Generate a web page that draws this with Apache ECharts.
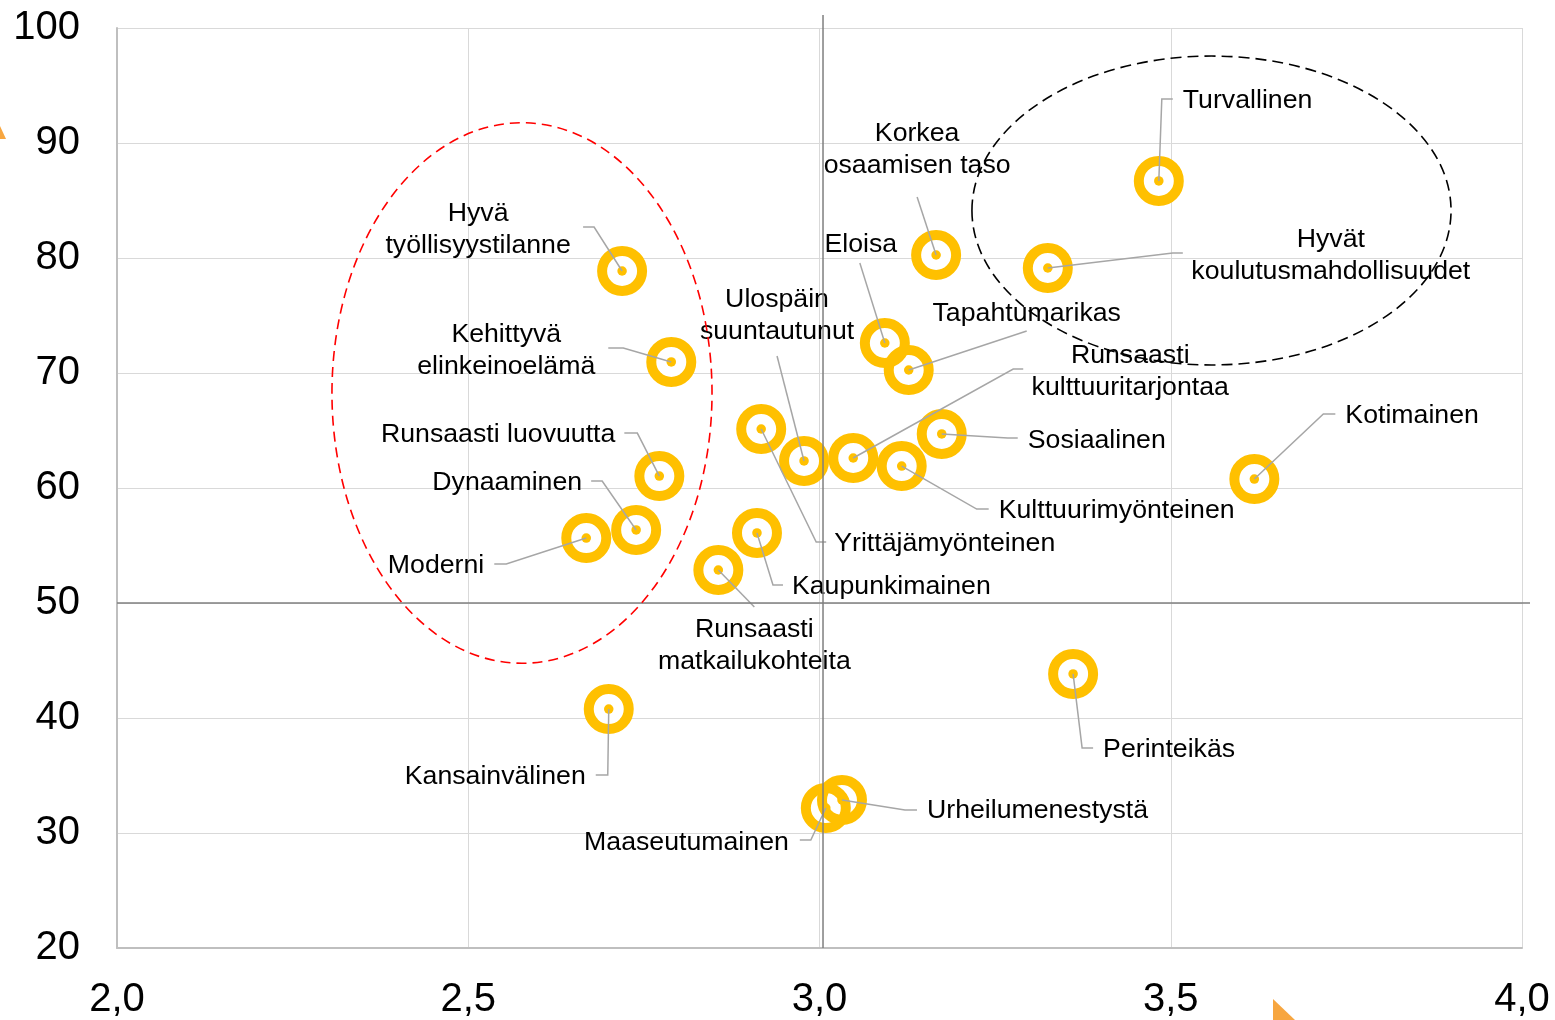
<!DOCTYPE html>
<html><head><meta charset="utf-8">
<script src="https://cdn.jsdelivr.net/npm/echarts@6/dist/echarts.min.js"></script>
<style>html,body{margin:0;padding:0;background:#fff}#c{width:1555px;height:1020px}</style>
</head><body><div id="c"></div>
<script>
// ---- data ----
const names = ['Turvallinen','Hyvät\nkoulutusmahdollisuudet','Korkea\nosaamisen taso','Eloisa','Tapahtumarikas',
  'Runsaasti\nkulttuuritarjontaa','Sosiaalinen','Kulttuurimyönteinen','Yrittäjämyönteinen','Ulospäin\nsuuntautunut',
  'Kaupunkimainen','Runsaasti\nmatkailukohteita','Hyvä\ntyöllisyystilanne','Kehittyvä\nelinkeinoelämä','Runsaasti luovuutta',
  'Dynaaminen','Moderni','Kansainvälinen','Kotimainen','Perinteikäs','Urheilumenestystä','Maaseutumainen'];
const xValues = [3.483,3.325,3.166,3.093,3.127,3.048,3.174,3.117,2.917,2.978,2.911,2.856,2.719,2.789,2.772,2.739,2.668,2.700,3.619,3.361,3.032,3.009];
const yValues = [86.70,79.13,80.26,72.61,70.26,62.61,64.70,61.91,65.13,62.35,56.09,52.87,78.87,70.96,61.04,56.35,55.65,40.78,60.78,43.83,32.87,32.17];
const xTickLabels = ['2,0','2,5','3,0','3,5','4,0'];
const yTickLabels = ['20','30','40','50','60','70','80','90','100'];
// group ellipses (annotation, in data units)
const groupEllipses = [
  {cx:2.5765, cy:68.26, rx:0.2705, ry:23.5},
  {cx:3.558, cy:84.13, rx:0.341, ry:13.43}
];
const quadrantCenter = [3.005, 50];

// ---- layout (pixel offsets from each point) ----
const leaderPaths = [
  [[3,-82],[14,-82]], [[125,-15],[135,-15]], [[-19,-58]], [[-25,-80]], [[118,-39]],
  [[160,-89],[170,-89]], [[66,4],[76,4]], [[75,43],[87,43]], [[55,113],[65,113]], [[-27,-105]],
  [[16,52],[26,52]], [[36,37]], [[-28,-44],[-39,-44]], [[-48,-14],[-63,-14]], [[-22,-43],[-35,-43]],
  [[-34,-49],[-45,-49]], [[-80,26],[-92,26]], [[-1,66],[-13,66]], [[69,-65],[81,-65]], [[9,74],[20,74]],
  [[63,10],[75,10]], [[-15,32],[-26,32]]
];
const labelPlacement = [
  [24,-82,'left'], [283,-14,'center'], [-19,-107,'center'], [-24,-100,'center'], [118,-58,'center'],
  [277,-88,'center'], [86,5,'left'], [97,43,'left'], [73,113,'left'], [-27,-147,'center'],
  [35,52,'left'], [36,74,'center'], [-144,-43,'center'], [-165,-13,'center'], [-44,-43,'right'],
  [-54,-49,'right'], [-102,26,'right'], [-23,66,'right'], [91,-65,'left'], [30,74,'left'],
  [85,9,'left'], [-37,33,'right']
];
const labelShiftY = 2;
const ellipseStyles = [{stroke:'#FF0000', dash:[10,6]}, {stroke:'#000000', dash:[11,6]}];

const FONT = "'Liberation Sans', Arial, sans-serif";
const points = names.map((n, i) => [xValues[i], yValues[i], n]);

const chart = echarts.init(document.getElementById('c'));
chart.setOption({
  animation: false,
  backgroundColor: '#fff',
  grid: {left: 117, right: 33, top: 28, bottom: 72, containLabel: false},
  xAxis: {
    type: 'value', min: 2, max: 4, interval: 0.5,
    axisLine: {show: true, lineStyle: {color: '#BFBFBF', width: 2}},
    axisTick: {show: false},
    splitLine: {show: true, lineStyle: {color: '#D9D9D9', width: 1}},
    axisLabel: {color: '#000', fontSize: 40, fontFamily: FONT, margin: 32,
      formatter: v => xTickLabels[Math.round((v - 2) / 0.5)]}
  },
  yAxis: {
    type: 'value', min: 20, max: 100, interval: 10,
    axisLine: {show: true, lineStyle: {color: '#BFBFBF', width: 2}},
    axisTick: {show: false},
    splitLine: {show: true, lineStyle: {color: '#D9D9D9', width: 1}},
    axisLabel: {color: '#000', fontSize: 40, fontFamily: FONT, margin: 37,
      formatter: v => yTickLabels[Math.round((v - 20) / 10)]}
  },
  series: [
    {type: 'scatter', data: points, symbol: 'circle', symbolSize: 30, z: 2,
      itemStyle: {color: '#FFFFFF', opacity: 1}, silent: true},
    {type: 'scatter', data: points, symbol: 'circle', symbolSize: 40, z: 3,
      itemStyle: {color: 'rgba(0,0,0,0)', borderColor: '#FFC000', borderWidth: 10, opacity: 1}, silent: true},
    {type: 'scatter', data: points, symbol: 'circle', symbolSize: 9.5, z: 4,
      itemStyle: {color: '#FFC000', opacity: 1}, silent: true},
    {type: 'custom', data: points, z: 5, clip: false, silent: true,
      renderItem: function (params, api) {
        const i = params.dataIndex;
        const p = api.coord([api.value(0), api.value(1)]);
        const pts = [[p[0], p[1]]].concat(leaderPaths[i].map(o => [p[0] + o[0], p[1] + o[1]]));
        const lp = labelPlacement[i];
        return {
          type: 'group',
          children: [
            {type: 'polyline', shape: {points: pts},
              style: {stroke: '#A6A6A6', lineWidth: 1.5, fill: 'none'}},
            {type: 'text', style: {x: p[0] + lp[0], y: p[1] + lp[1] + labelShiftY, text: names[i],
              fill: '#000', fontSize: 26.7, fontFamily: FONT, align: lp[2], verticalAlign: 'middle', lineHeight: 32}}
          ]
        };
      }}
  ]
});

function drawOverlays() {
  const g = [];
  const c = chart.convertToPixel({gridIndex: 0}, quadrantCenter);
  const tl = chart.convertToPixel({gridIndex: 0}, [2, 100]);
  const br = chart.convertToPixel({gridIndex: 0}, [4, 20]);
  g.push({type: 'line', z: 100, silent: true, shape: {x1: c[0], y1: tl[1] - 13, x2: c[0], y2: br[1]},
    style: {stroke: '#7F7F7F', lineWidth: 1.5}});
  g.push({type: 'line', z: 100, silent: true, shape: {x1: tl[0], y1: c[1], x2: br[0] + 8, y2: c[1]},
    style: {stroke: '#7F7F7F', lineWidth: 1.5}});
  groupEllipses.forEach((e, k) => {
    const cc = chart.convertToPixel({gridIndex: 0}, [e.cx, e.cy]);
    const ed = chart.convertToPixel({gridIndex: 0}, [e.cx + e.rx, e.cy + e.ry]);
    g.push({type: 'ellipse', z: 101, silent: true,
      shape: {cx: cc[0], cy: cc[1], rx: Math.abs(ed[0] - cc[0]), ry: Math.abs(cc[1] - ed[1])},
      style: {fill: 'none', stroke: ellipseStyles[k].stroke, lineWidth: 1.6, lineDash: ellipseStyles[k].dash}});
  });
  // small cropped orange shapes at the image edges
  g.push({type: 'polygon', z: 50, silent: true, shape: {points: [[0, 126], [6, 139], [0, 139]]}, style: {fill: '#F7A640'}});
  g.push({type: 'polygon', z: 50, silent: true, shape: {points: [[1273, 999], [1295, 1020], [1273, 1020]]}, style: {fill: '#F7A640'}});
  chart.setOption({graphic: g});
}
drawOverlays();
</script>
</body></html>
